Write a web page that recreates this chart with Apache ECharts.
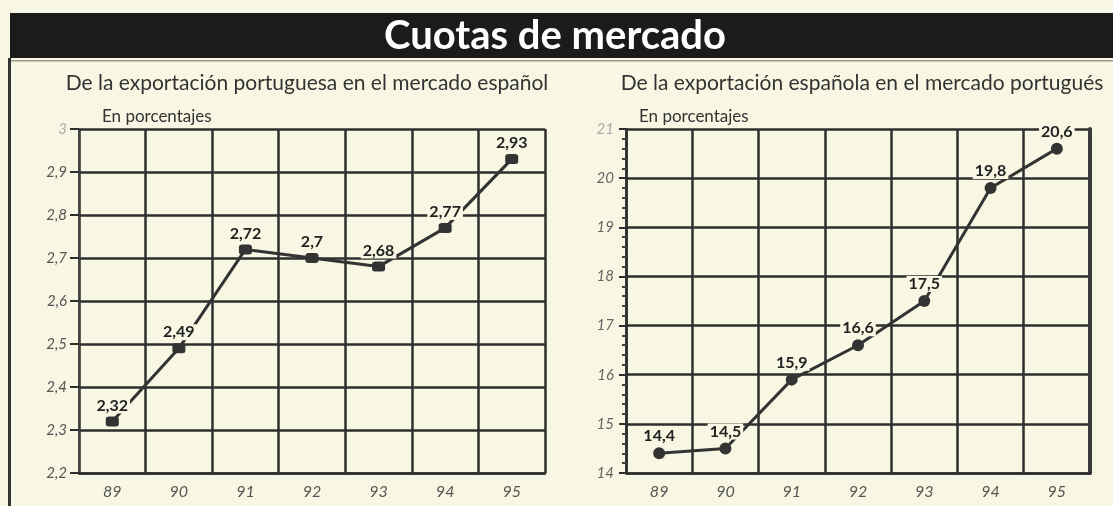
<!DOCTYPE html>
<html>
<head>
<meta charset="utf-8">
<script src="https://cdn.jsdelivr.net/npm/echarts@6/dist/echarts.min.js"></script>
<style>
  html, body { margin: 0; padding: 0; background: #f8f7e3; }
  #chart { width: 1113px; height: 506px; }
</style>
</head>
<body>
<div id="chart"></div>
<script>
const years = ['89', '90', '91', '92', '93', '94', '95']
// Cuota de la exportación portuguesa en el mercado español (%)
const ptEnEspana = [2.32, 2.49, 2.72, 2.7, 2.68, 2.77, 2.93]
// Cuota de la exportación española en el mercado portugués (%)
const esEnPortugal = [14.4, 14.5, 15.9, 16.6, 17.5, 19.8, 20.6]

const bg = '#f8f7e3'
const ink = '#2f2f2f'
const font = 'Lato, "Open Sans", sans-serif'

const comma = (v, d) => String(+(+v).toFixed(d)).replace('.', ',')

const xAxisCfg = (gridIndex) => ({
  type: 'category',
  gridIndex,
  data: years,
  boundaryGap: true,
  axisLine: { lineStyle: { color: ink, width: 2.5 } },
  axisTick: { show: false },
  splitLine: { show: true, interval: 0, lineStyle: { color: ink, width: 2.5 } },
  axisLabel: {
    color: '#555', fontSize: 16, fontStyle: 'italic', fontFamily: font, margin: 11
  }
})

const labelCfg = (d) => ({
  show: true,
  position: 'top',
  distance: 3,
  color: '#222',
  fontSize: 16,
  fontWeight: 'bold',
  fontFamily: font,
  backgroundColor: bg,
  padding: [0, 2],
  formatter: (p) => comma(p.value, d)
})

const chart = echarts.init(document.getElementById('chart'), null, { renderer: 'canvas' })

chart.setOption({
  backgroundColor: bg,
  animation: false,
  graphic: [
    { type: 'rect', shape: { x: 10, y: 13, width: 1103, height: 45 }, style: { fill: '#1b1b1b' } },
    { type: 'rect', shape: { x: 8, y: 58, width: 3, height: 448 }, style: { fill: '#333' } },
    { type: 'rect', shape: { x: 11, y: 60, width: 1102, height: 1.5 }, style: { fill: '#9a9a8c' } }
  ],
  title: [
    {
      text: 'Cuotas de mercado',
      left: 550, top: 11, textAlign: 'center',
      textStyle: { color: '#fff', fontSize: 40, fontWeight: 'bold', fontFamily: font }
    },
    {
      text: 'De la exportación portuguesa en el mercado español',
      left: 302, top: 68, textAlign: 'center',
      textStyle: { color: '#333', fontSize: 21, fontWeight: 'normal', fontFamily: font }
    },
    {
      text: 'De la exportación española en el mercado portugués',
      left: 857, top: 68, textAlign: 'center',
      textStyle: { color: '#333', fontSize: 21, fontWeight: 'normal', fontFamily: font }
    },
    {
      text: 'En porcentajes',
      left: 97, top: 103,
      textStyle: { color: '#333', fontSize: 17, fontWeight: 'normal', fontFamily: font }
    },
    {
      text: 'En porcentajes',
      left: 634, top: 103,
      textStyle: { color: '#333', fontSize: 17, fontWeight: 'normal', fontFamily: font }
    }
  ],
  grid: [
    { left: 79, right: 568, top: 129, bottom: 33 },
    { left: 626, right: 23, top: 129, bottom: 33 }
  ],
  xAxis: [xAxisCfg(0), xAxisCfg(1)],
  yAxis: [
    {
      type: 'value', gridIndex: 0,
      min: 2.2, max: 3, interval: 0.1,
      axisLine: { show: true, lineStyle: { color: '#444', width: 2, type: [5, 3] } },
      axisTick: { show: true, length: 9, lineStyle: { color: ink, width: 2 } },
      splitLine: { lineStyle: { color: ink, width: 2.5 } },
      axisLabel: {
        fontSize: 15, fontStyle: 'italic', fontFamily: font, margin: 12,
        color: (v) => (+v === 3 ? '#aaa' : '#555'),
        formatter: (v) => comma(v, 1)
      }
    },
    {
      type: 'value', gridIndex: 1,
      min: 14, max: 21, interval: 1,
      axisLine: { show: true, lineStyle: { color: ink, width: 2.5 } },
      axisTick: { show: true, length: 7, lineStyle: { color: ink, width: 2 } },
      minorTick: { show: true, splitNumber: 5, length: 4, lineStyle: { color: '#444', width: 2 } },
      splitLine: { lineStyle: { color: ink, width: 2.5 } },
      axisLabel: {
        fontSize: 15, fontStyle: 'italic', fontFamily: font, margin: 12,
        color: (v) => (+v === 21 ? '#aaa' : '#666'),
        formatter: (v) => comma(v, 1)
      }
    },
    {
      // right border of the second panel
      type: 'value', gridIndex: 1, position: 'right',
      min: 14, max: 21,
      axisLine: { show: true, lineStyle: { color: '#3a3a3a', width: 4 } },
      axisTick: { show: false }, axisLabel: { show: false }, splitLine: { show: false }
    }
  ],
  series: [
    {
      type: 'line', xAxisIndex: 0, yAxisIndex: 0,
      data: ptEnEspana,
      symbol: 'roundRect', symbolSize: [13, 10],
      itemStyle: { color: '#333' },
      lineStyle: { color: '#333', width: 3 },
      label: labelCfg(2),
      z: 5
    },
    {
      type: 'line', xAxisIndex: 1, yAxisIndex: 1,
      data: esEnPortugal,
      symbol: 'circle', symbolSize: 12,
      itemStyle: { color: '#333' },
      lineStyle: { color: '#333', width: 3 },
      label: labelCfg(1),
      z: 5
    }
  ]
})
</script>
</body>
</html>
